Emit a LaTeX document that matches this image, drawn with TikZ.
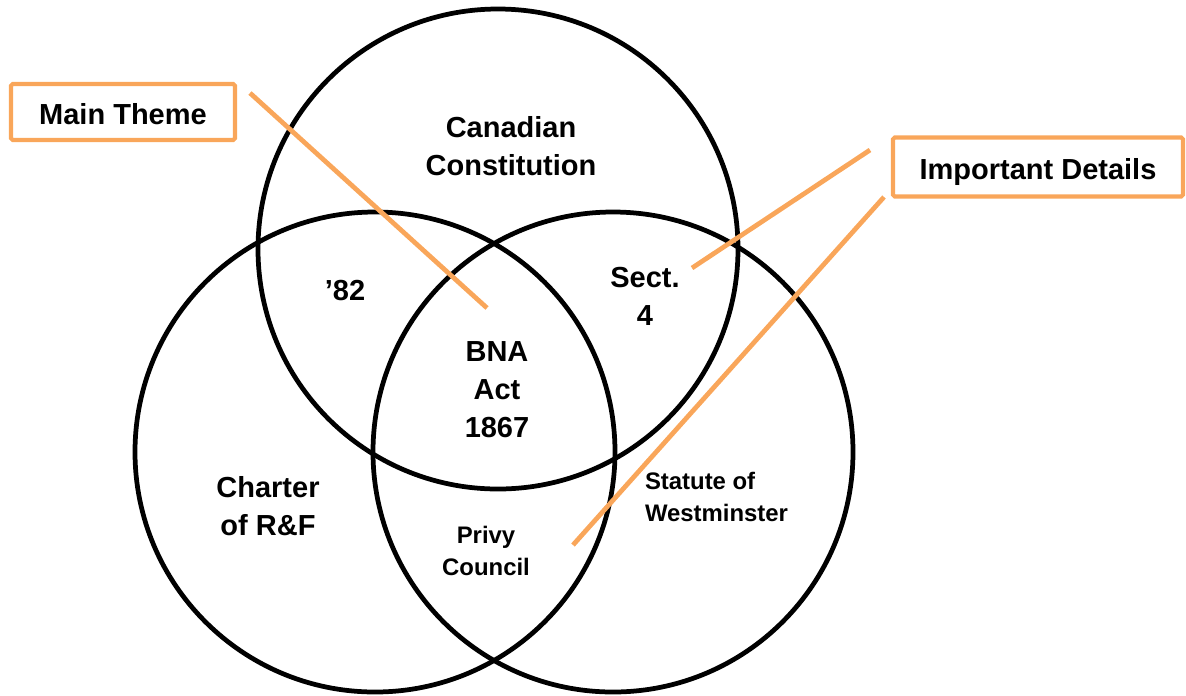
\documentclass[tikz,border=0pt]{standalone}
\usepackage{fontspec}
\setmainfont{Liberation Sans}
\usetikzlibrary{positioning}
\definecolor{hiorange}{RGB}{249,166,90}
\newcommand{\bigtxt}{\fontsize{16.5}{21.6}\selectfont\bfseries}
\newcommand{\smalltxt}{\fontsize{13.6}{17.8}\selectfont\bfseries}
\newcommand{\ring}[2]{ \draw[ring] ( #1 , #2 ) circle (4.8);}
\tikzset{
  ring/.style={draw=black, line width=2.7pt},
  tagbox/.style={draw=hiorange, line width=2.3pt, rounded corners=1pt, inner sep=0pt, align=center, font=\bigtxt},
  pointer/.style={draw=hiorange, line width=2.7pt},
  bigtext/.style={align=center, font=\bigtxt},
  smalltext/.style={align=center, font=\smalltxt},
}
\begin{document}
\begin{tikzpicture}
        \useasboundingbox (0,0) rectangle (23.72,-13.9);

        % circles
        \ring{9.96}{-4.98}
        \ring{7.5}{-9.04}
        \ring{12.26}{-9.04}

        % labels
        \node[bigtext] (canada) at (10.22,-2.92) {Canadian\\Constitution};
        \node[bigtext] (eightytwo) at (6.9,-5.82) {’82};
        \node[bigtext] (sect) at (12.9,-5.92) {Sect.\\4};
        \node[bigtext] (bna) at (9.94,-7.8) {BNA\\Act\\1867};
        \node[bigtext] (charter) at (5.36,-10.12) {Charter\\of R\&F};
        \node[smalltext, align=left] (statute) at (14.33,-9.94) {Statute of\\Westminster};
        \node[smalltext] (privy) at (9.72,-11.02) {Privy\\Council};

        % boxes
        \node[tagbox, minimum width=4.48cm, minimum height=1.12cm, text height=14.3pt] (theme) at (2.46,-2.24) {Main Theme};
        \node[tagbox, minimum width=5.8cm, minimum height=1.18cm, text height=17.7pt] (details) at (20.76,-3.34) {Important Details};

        % pointers
        \coordinate (themeA) at (5.0,-1.86);
        \coordinate (themeB) at (9.74,-6.16);
        \coordinate (detA) at (17.4,-3.0);
        \coordinate (detB) at (13.84,-5.36);
        \coordinate (detC) at (17.68,-3.94);
        \coordinate (detD) at (11.46,-10.9);

        \draw[pointer] (themeA) -- (themeB);
        \draw[pointer] (detA) -- (detB);
        \draw[pointer] (detC) -- (detD);

\end{tikzpicture}
\end{document}
